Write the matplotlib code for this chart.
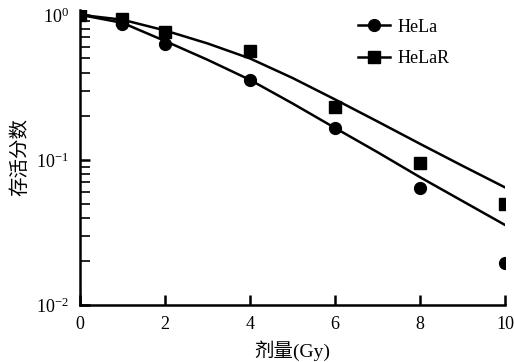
import numpy as np
import matplotlib.pyplot as plt
from matplotlib.ticker import LogLocator, NullFormatter

plt.rcParams['font.family'] = ['Liberation Serif', 'Noto Sans CJK SC']
plt.rcParams['mathtext.fontset'] = 'custom'
plt.rcParams['mathtext.rm'] = 'Liberation Serif'

# measured survival fractions
dose = [0, 1, 2, 4, 6, 8, 10]
hela = [1.0, 0.86, 0.63, 0.355, 0.166, 0.064, 0.0195]
helar = [1.0, 0.94, 0.76, 0.565, 0.232, 0.095, 0.050]

# fitted curves
fit_dose = [0, 1, 2, 3, 4, 5, 6, 7, 8, 9, 10]
hela_fit = [1.0, 0.88, 0.66, 0.49, 0.356, 0.245, 0.166, 0.113, 0.076, 0.052, 0.0356]
helar_fit = [1.0, 0.925, 0.78, 0.635, 0.50, 0.367, 0.261, 0.184, 0.129, 0.091, 0.0646]

fig = plt.figure(figsize=(5.14, 3.62), dpi=100)
ax = fig.add_axes([0.1556, 0.1575, 0.827, 0.815])

ax.plot(fit_dose, hela_fit, color='black', lw=1.8)
ax.plot(fit_dose, helar_fit, color='black', lw=1.8)
ax.plot(dose, hela, 'o', color='black', ms=8.5)
ax.plot(dose, helar, 's', color='black', ms=8.5)

# legend handles
ax.plot([], [], '-o', color='black', lw=1.8, ms=8.5, label='HeLa')
ax.plot([], [], '-s', color='black', lw=1.8, ms=8.5, label='HeLaR')
ax.legend(loc='upper left', bbox_to_anchor=(0.664, 0.993),
          bbox_transform=fig.transFigure, frameon=False,
          fontsize=13, handlelength=1.8, handletextpad=0.4, labelspacing=0.8)

ax.set_yscale('log')
ax.set_xlim(0, 10)
ax.set_ylim(0.01, 1.08)
ax.set_xticks([0, 2, 4, 6, 8, 10])
ax.yaxis.set_major_locator(LogLocator(base=10, numticks=5))
ax.yaxis.set_minor_locator(LogLocator(base=10, subs=np.arange(2, 10), numticks=20))
ax.yaxis.set_minor_formatter(NullFormatter())

for s in ['top', 'right']:
    ax.spines[s].set_visible(False)
for s in ['left', 'bottom']:
    ax.spines[s].set_linewidth(1.8)

ax.tick_params(axis='both', which='major', direction='in', length=7, width=1.8,
               labelsize=13, pad=8)
ax.tick_params(axis='y', which='minor', direction='in', length=7, width=1.2)

ax.set_xlabel('剂量(Gy)', fontsize=14, labelpad=5)
ax.set_ylabel('存活分数', fontsize=14, labelpad=5)

plt.savefig('out.png', dpi=100)
